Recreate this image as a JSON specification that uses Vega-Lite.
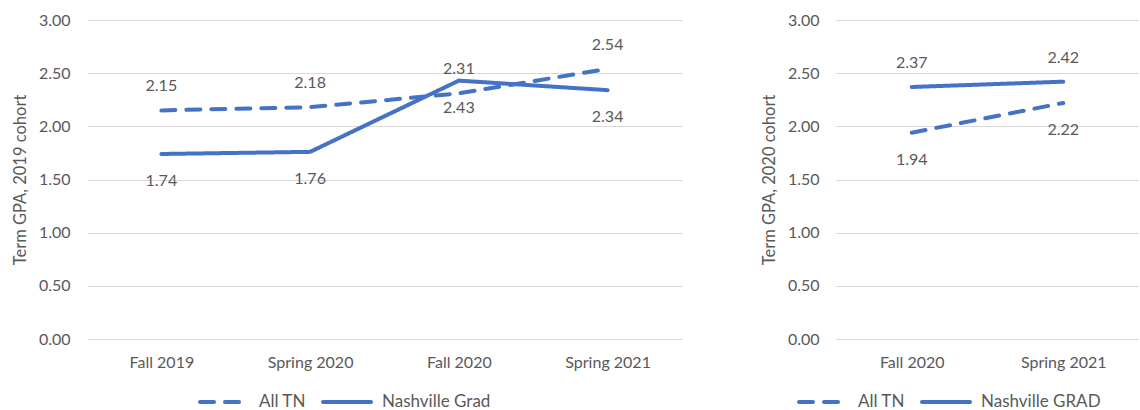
{
  "$schema": "https://vega.github.io/schema/vega-lite/v6.json",
  "padding": {"top": 12, "left": 12, "right": 0, "bottom": 0},
  "background": "white",
  "config": {
    "font": "Lato",
    "view": {"stroke": null},
    "axis": {"labelFont": "Lato", "titleFont": "Lato", "labelFontSize": 16, "titleFontSize": 16.5, "labelColor": "#595959", "titleColor": "#595959", "titleFontWeight": "normal", "ticks": false, "domain": false},
    "legend": {"labelFont": "Lato", "labelFontSize": 17, "labelColor": "#595959"}
  },
  "datasets": {
    "c2019": [
      {"term": "Fall 2019", "series": "All TN", "gpa": 2.15},
      {"term": "Spring 2020", "series": "All TN", "gpa": 2.18},
      {"term": "Fall 2020", "series": "All TN", "gpa": 2.31},
      {"term": "Spring 2021", "series": "All TN", "gpa": 2.54},
      {"term": "Fall 2019", "series": "Nashville Grad", "gpa": 1.74},
      {"term": "Spring 2020", "series": "Nashville Grad", "gpa": 1.76},
      {"term": "Fall 2020", "series": "Nashville Grad", "gpa": 2.43},
      {"term": "Spring 2021", "series": "Nashville Grad", "gpa": 2.34}
    ],
    "c2020": [
      {"term": "Fall 2020", "series": "All TN", "gpa": 1.94},
      {"term": "Spring 2021", "series": "All TN", "gpa": 2.22},
      {"term": "Fall 2020", "series": "Nashville GRAD", "gpa": 2.37},
      {"term": "Spring 2021", "series": "Nashville GRAD", "gpa": 2.42}
    ]
  },
  "spacing": 79,
  "resolve": {"scale": {"strokeDash": "independent", "x": "independent", "y": "independent"}, "legend": {"strokeDash": "independent"}},
  "hconcat": [
    {
      "width": 595,
      "height": 319,
      "data": {"name": "c2019"},
      "encoding": {
        "x": {"field": "term", "type": "nominal", "sort": ["Fall 2019", "Spring 2020", "Fall 2020", "Spring 2021"], "axis": {"title": null, "labelAngle": 0, "labelPadding": 15, "grid": false}},
        "y": {"field": "gpa", "type": "quantitative", "scale": {"domain": [0, 3], "nice": false}, "axis": {"title": "Term GPA, 2019 cohort", "values": [0, 0.5, 1, 1.5, 2, 2.5, 3], "format": ".2f", "labelPadding": 17, "titlePadding": 10, "grid": true, "gridColor": "#d9d9d9", "gridWidth": 1}}
      },
      "layer": [
        {
          "mark": {"type": "line", "color": "#4472C4", "strokeWidth": 4, "strokeCap": "round"},
          "encoding": {
            "strokeDash": {
              "field": "series", "type": "nominal",
              "scale": {"domain": ["All TN", "Nashville Grad"], "range": [[14, 11], [1, 0]]},
              "legend": {
                "title": null, "orient": "none", "legendX": 111, "legendY": 356, "direction": "horizontal",
                "symbolType": "stroke", "symbolSize": 2304, "symbolStrokeWidth": 4, "symbolStrokeColor": "#4472C4",
                "labelOffset": 9, "columnPadding": 9,
                "encode": {"symbols": {"update": {"strokeDash": {"signal": "datum.value === 'All TN' ? [10, 9] : [1, 0]"}, "strokeCap": {"value": "round"}}}}
              }
            }
          }
        },
        {
          "transform": [{"filter": "datum.series === 'All TN'"}],
          "mark": {"type": "text", "dy": -24, "fontSize": 16, "color": "#595959", "font": "Lato"},
          "encoding": {"text": {"field": "gpa", "type": "quantitative", "format": ".2f"}}
        },
        {
          "transform": [{"filter": "datum.series !== 'All TN'"}],
          "mark": {"type": "text", "dy": 27, "fontSize": 16, "color": "#595959", "font": "Lato"},
          "encoding": {"text": {"field": "gpa", "type": "quantitative", "format": ".2f"}}
        }
      ]
    },
    {
      "width": 303,
      "height": 319,
      "data": {"name": "c2020"},
      "encoding": {
        "x": {"field": "term", "type": "nominal", "sort": ["Fall 2020", "Spring 2021"], "axis": {"title": null, "labelAngle": 0, "labelPadding": 15, "grid": false}},
        "y": {"field": "gpa", "type": "quantitative", "scale": {"domain": [0, 3], "nice": false}, "axis": {"title": "Term GPA, 2020 cohort", "values": [0, 0.5, 1, 1.5, 2, 2.5, 3], "format": ".2f", "labelPadding": 17, "titlePadding": 10, "grid": true, "gridColor": "#d9d9d9", "gridWidth": 1}}
      },
      "layer": [
        {
          "mark": {"type": "line", "color": "#4472C4", "strokeWidth": 4, "strokeCap": "round"},
          "encoding": {
            "strokeDash": {
              "field": "series", "type": "nominal",
              "scale": {"domain": ["All TN", "Nashville GRAD"], "range": [[14, 11], [1, 0]]},
              "legend": {
                "title": null, "orient": "none", "legendX": -39, "legendY": 356, "direction": "horizontal",
                "symbolType": "stroke", "symbolSize": 2304, "symbolStrokeWidth": 4, "symbolStrokeColor": "#4472C4",
                "labelOffset": 9, "columnPadding": 9,
                "encode": {"symbols": {"update": {"strokeDash": {"signal": "datum.value === 'All TN' ? [10, 9] : [1, 0]"}, "strokeCap": {"value": "round"}}}}
              }
            }
          }
        },
        {
          "transform": [{"filter": "datum.series !== 'All TN'"}],
          "mark": {"type": "text", "dy": -24, "fontSize": 16, "color": "#595959", "font": "Lato"},
          "encoding": {"text": {"field": "gpa", "type": "quantitative", "format": ".2f"}}
        },
        {
          "transform": [{"filter": "datum.series === 'All TN'"}],
          "mark": {"type": "text", "dy": 27, "fontSize": 16, "color": "#595959", "font": "Lato"},
          "encoding": {"text": {"field": "gpa", "type": "quantitative", "format": ".2f"}}
        }
      ]
    }
  ]
}
